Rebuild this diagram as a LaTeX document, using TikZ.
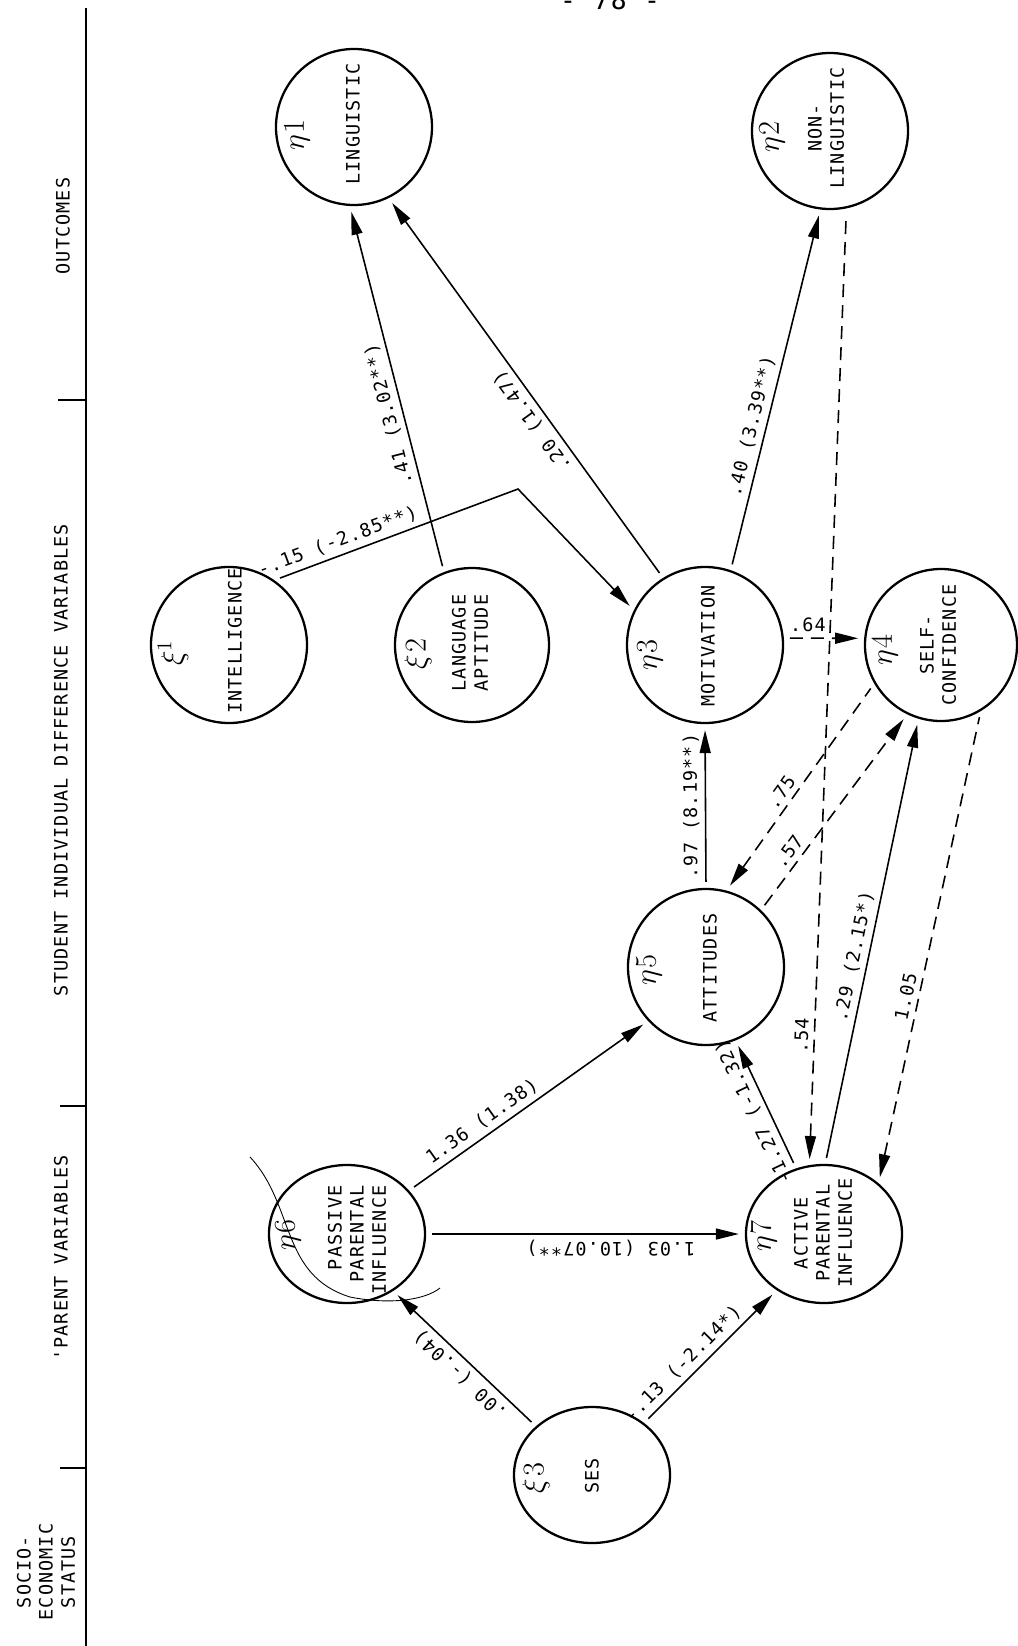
\documentclass[tikz,border=0pt]{standalone}
\usepackage{fontspec}
\newfontfamily\tw{DejaVu Sans Mono}[LetterSpace=6]
\usetikzlibrary{shapes.geometric,arrows.meta}
\newcommand{\twf}{\tw\fontsize{10.5}{12.6}\selectfont}
\begin{document}
\begin{tikzpicture}[x=0.2mm,y=-0.2mm,
  lv/.style={circle,draw,line width=1.3pt,inner sep=0pt,minimum size=#1},
  lve/.style 2 args={ellipse,draw,line width=1.3pt,inner sep=0pt,minimum width=#1,minimum height=#2},
  tt/.style={font=\twf,rotate=90,align=center,inner sep=0pt},
  gk/.style={font=\LARGE,rotate=90,inner sep=0pt},
  conn/.style={line width=0.9pt,shorten <=1.2mm,shorten >=1.2mm},
  arr/.style={conn,-{Triangle[length=4.6mm,width=2.2mm]}},
  rarr/.style={conn,{Triangle[length=4.6mm,width=2.2mm]}-},
  dsh/.style={dash pattern=on 2.6mm off 1.6mm},
  lab/.style={font=\twf,sloped,allow upside down,inner sep=3pt},
  axis/.style={line width=1.2pt}]
\useasboundingbox (0,0) rectangle (1017,1646);

% page number (cut off at the top)
\node[font=\tw\fontsize{15}{18}\selectfont,anchor=base,inner sep=0pt] (pg) at (610,10) {- 78 -};

% left axis with category labels
\draw[axis] (86,8) -- (86,1646);
\draw[axis] (58,400) -- (86,400);
\draw[axis] (60,1106) -- (86,1106);
\draw[axis] (60,1468) -- (86,1468);
\node[tt] (h1) at (63,226) {OUTCOMES};
\node[tt] (h2) at (61,760) {STUDENT INDIVIDUAL DIFFERENCE VARIABLES};
\node[tt] (h3) at (61,1258) {'PARENT VARIABLES};
\node[tt] (h4) at (46,1572) {SOCIO-\\ECONOMIC\\STATUS};

% latent variables
\node[lv=31.2mm] (e1) at (354,127) {};
\node[lv=31.2mm] (e2) at (830,131) {};
\node[lv=31.2mm] (x1) at (229,645) {};
\node[lv=30.8mm] (x2) at (472,645) {};
\node[lv=31.2mm] (e3) at (705,645) {};
\node[lv=30.4mm] (e4) at (941,645) {};
\node[lv=31.2mm] (e5) at (706,967) {};
\node[lve={31.2mm}{27.6mm}] (e6) at (347,1234) {};
\node[lve={31.2mm}{27.6mm}] (e7) at (824,1234) {};
\node[lve={31.2mm}{27.2mm}] (x3) at (592,1475) {};

% texts in the circles
\node[tt] (t1) at (353,124) {LINGUISTIC};
\node[tt] (t2) at (826,128) {NON-\\LINGUISTIC};
\node[tt] (tx1) at (235,641) {INTELLIGENCE};
\node[tt] (tx2) at (470,643) {LANGUAGE\\APTITUDE};
\node[tt] (t3) at (708,646) {MOTIVATION};
\node[tt] (t4) at (938,645) {SELF-\\CONFIDENCE};
\node[tt] (t5) at (710,968) {ATTITUDES};
\node[tt,align=right] (t6) at (357,1240) {PASSIVE\\PARENTAL\\INFLUENCE};
\node[tt] (t7) at (823,1233) {ACTIVE\\PARENTAL\\INFLUENCE};
\node[tt] (tx3) at (592,1476) {SES};

% greek symbols
\node[gk] (g1) at (297,135) {$\eta\mkern1mu 1$};
\node[gk] (g2) at (772,137) {$\eta\mkern1mu 2$};
\node[gk] (gx1) at (173,653) {$\xi^{1}$};
\node[gk] (gx2) at (418,654) {$\xi\mkern1mu 2$};
\node[gk] (g3) at (650,655) {$\eta\mkern1mu 3$};
\node[gk] (g4) at (885,650) {$\eta\mkern1mu 4$};
\node[gk] (g5) at (649,970) {$\eta\mkern1mu 5$};
\node[gk] (g6) at (288,1235) {$\eta\mkern1mu 6$};
\node[gk] (g7) at (764,1236) {$\eta\mkern1mu 7$};
\node[gk] (gx3) at (536,1478) {$\xi\mkern1mu 3$};

% hand-drawn stroke across eta6
\draw[line width=0.5pt] (250,1157) .. controls (295,1205) and (280,1275) .. (350,1297)
  .. controls (390,1305) and (425,1300) .. (440,1288);

% paths
\coordinate (bend) at (518,489);
\draw[arr] (x1.55) -- node[lab,pos=0.28,above]{-.15 (-2.85**)} (bend) -- (e3.154);
\draw[arr] (x2.111) -- node[lab,pos=0.44,above]{.41 (3.02**)} (e1.267);
\draw[arr] (e3.122) -- node[lab,pos=0.435,above]{.20 (1.47)} (e1.-64);
\draw[arr] (e3.71) -- node[lab,pos=0.39,above]{.40 (3.39**)} (e2.-97);
\draw[arr,dsh] (e3.5) -- node[lab,pos=0.3,above]{.64} (e4.175);
\draw[rarr,dsh] (e7.102) -- node[lab,pos=0.135,above]{.54} (e2.-78);
\draw[rarr,dsh] (e5.75) -- node[lab,pos=0.44,above]{.75} (e4.210);
\draw[arr,dsh] (e5.46) -- node[lab,pos=0.26,above]{.57} (e4.-116);
\draw[arr] (e5.90) -- node[lab,pos=0.5,above]{.97 (8.19**)} (e3.-90);
\draw[arr] (e7.89) -- node[lab,pos=0.46,above]{.29 (2.15*)} (e4.-107);
\draw[rarr,dsh] (e7.43) -- node[lab,pos=0.39,above]{1.05} (e4.-59);
\draw[arr] (e7.113) -- node[lab,pos=0.49,above]{-1.27 (-1.32)} (e5.-68);
\draw[arr] (e6.35) -- node[lab,pos=0.34,above]{1.36 (1.38)} (e5.223);
\draw[rarr] (e7.180) -- node[lab,pos=0.42,above]{1.03 (10.07**)} (e6.0);
\draw[arr] (x3.139) -- node[lab,pos=0.46,above]{.00 (-.04)} (e6.-51);
\draw[arr] (x3.45) -- node[lab,pos=0.37,above]{-.13 (-2.14*)} (e7.230);
\end{tikzpicture}
\end{document}
